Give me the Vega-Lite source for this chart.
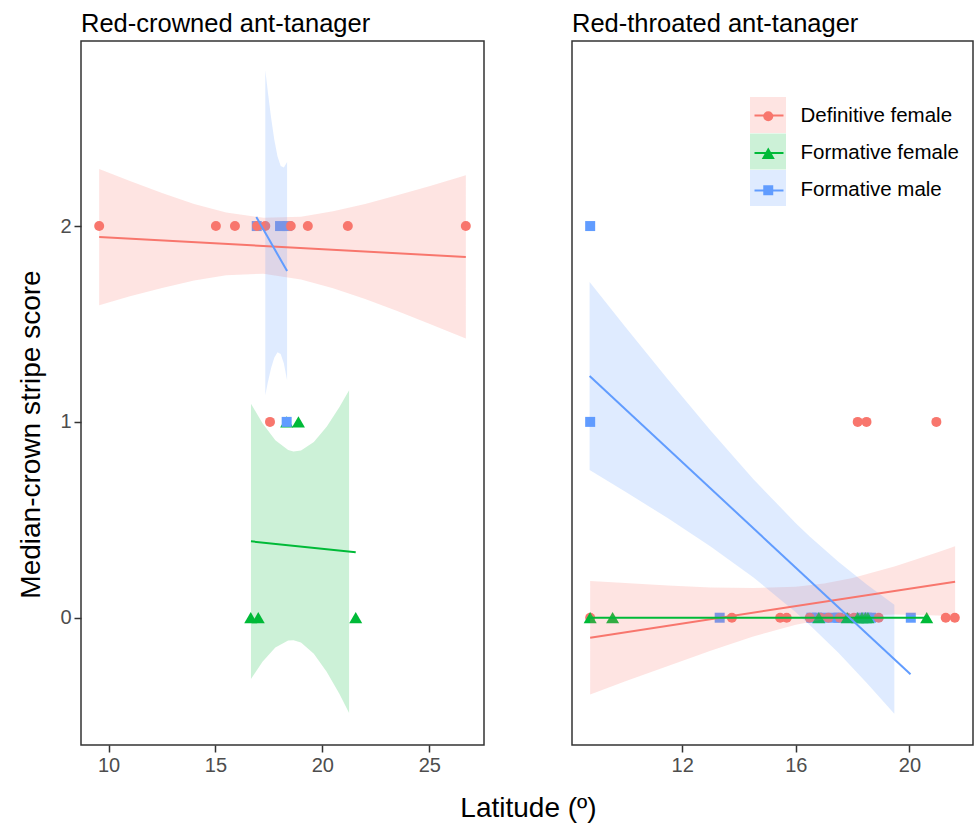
{
  "$schema": "https://vega.github.io/schema/vega-lite/v6.json",
  "padding": {"left": 16, "top": 10, "right": 4, "bottom": 4},
  "background": "white",
  "datasets": {
    "points": [
      {"panel": "L", "group": "Formative female", "lat": 16.65, "score": 0},
      {"panel": "L", "group": "Formative female", "lat": 17.0, "score": 0},
      {"panel": "L", "group": "Formative female", "lat": 21.56, "score": 0},
      {"panel": "L", "group": "Formative female", "lat": 18.33, "score": 1},
      {"panel": "L", "group": "Formative female", "lat": 18.88, "score": 1},
      {"panel": "L", "group": "Formative male", "lat": 16.93, "score": 2},
      {"panel": "L", "group": "Formative male", "lat": 18.02, "score": 2},
      {"panel": "L", "group": "Formative male", "lat": 18.36, "score": 2},
      {"panel": "L", "group": "Formative male", "lat": 18.33, "score": 1},
      {"panel": "L", "group": "Definitive female", "lat": 9.56, "score": 2},
      {"panel": "L", "group": "Definitive female", "lat": 15.02, "score": 2},
      {"panel": "L", "group": "Definitive female", "lat": 15.91, "score": 2},
      {"panel": "L", "group": "Definitive female", "lat": 16.95, "score": 2},
      {"panel": "L", "group": "Definitive female", "lat": 17.33, "score": 2},
      {"panel": "L", "group": "Definitive female", "lat": 18.52, "score": 2},
      {"panel": "L", "group": "Definitive female", "lat": 19.32, "score": 2},
      {"panel": "L", "group": "Definitive female", "lat": 21.19, "score": 2},
      {"panel": "L", "group": "Definitive female", "lat": 26.71, "score": 2},
      {"panel": "L", "group": "Definitive female", "lat": 17.55, "score": 1},
      {"panel": "R", "group": "Formative male", "lat": 8.76, "score": 2},
      {"panel": "R", "group": "Formative male", "lat": 8.76, "score": 1},
      {"panel": "R", "group": "Formative male", "lat": 13.32, "score": 0},
      {"panel": "R", "group": "Formative male", "lat": 16.55, "score": 0},
      {"panel": "R", "group": "Formative male", "lat": 16.75, "score": 0},
      {"panel": "R", "group": "Formative male", "lat": 17.0, "score": 0},
      {"panel": "R", "group": "Formative male", "lat": 17.35, "score": 0},
      {"panel": "R", "group": "Formative male", "lat": 17.5, "score": 0},
      {"panel": "R", "group": "Formative male", "lat": 18.3, "score": 0},
      {"panel": "R", "group": "Formative male", "lat": 18.5, "score": 0},
      {"panel": "R", "group": "Formative male", "lat": 18.65, "score": 0},
      {"panel": "R", "group": "Formative male", "lat": 20.05, "score": 0},
      {"panel": "R", "group": "Definitive female", "lat": 18.18, "score": 1},
      {"panel": "R", "group": "Definitive female", "lat": 18.49, "score": 1},
      {"panel": "R", "group": "Definitive female", "lat": 20.95, "score": 1},
      {"panel": "R", "group": "Definitive female", "lat": 8.76, "score": 0},
      {"panel": "R", "group": "Definitive female", "lat": 13.75, "score": 0},
      {"panel": "R", "group": "Definitive female", "lat": 15.45, "score": 0},
      {"panel": "R", "group": "Definitive female", "lat": 15.68, "score": 0},
      {"panel": "R", "group": "Definitive female", "lat": 16.49, "score": 0},
      {"panel": "R", "group": "Definitive female", "lat": 16.87, "score": 0},
      {"panel": "R", "group": "Definitive female", "lat": 17.15, "score": 0},
      {"panel": "R", "group": "Definitive female", "lat": 17.55, "score": 0},
      {"panel": "R", "group": "Definitive female", "lat": 17.81, "score": 0},
      {"panel": "R", "group": "Definitive female", "lat": 18.05, "score": 0},
      {"panel": "R", "group": "Definitive female", "lat": 18.92, "score": 0},
      {"panel": "R", "group": "Definitive female", "lat": 21.28, "score": 0},
      {"panel": "R", "group": "Definitive female", "lat": 21.6, "score": 0},
      {"panel": "R", "group": "Formative female", "lat": 8.76, "score": 0},
      {"panel": "R", "group": "Formative female", "lat": 9.55, "score": 0},
      {"panel": "R", "group": "Formative female", "lat": 16.81, "score": 0},
      {"panel": "R", "group": "Formative female", "lat": 17.81, "score": 0},
      {"panel": "R", "group": "Formative female", "lat": 18.18, "score": 0},
      {"panel": "R", "group": "Formative female", "lat": 18.33, "score": 0},
      {"panel": "R", "group": "Formative female", "lat": 18.45, "score": 0},
      {"panel": "R", "group": "Formative female", "lat": 18.54, "score": 0},
      {"panel": "R", "group": "Formative female", "lat": 20.61, "score": 0}
    ],
    "fits": [
      {"panel": "L", "fitgroup": "Definitive female", "lat": 9.56, "score": 1.944},
      {"panel": "L", "fitgroup": "Definitive female", "lat": 26.71, "score": 1.842},
      {"panel": "L", "fitgroup": "Formative female", "lat": 16.66, "score": 0.39},
      {"panel": "L", "fitgroup": "Formative female", "lat": 21.56, "score": 0.334},
      {"panel": "L", "fitgroup": "Formative male", "lat": 16.91, "score": 2.046},
      {"panel": "L", "fitgroup": "Formative male", "lat": 18.35, "score": 1.77},
      {"panel": "R", "fitgroup": "Definitive female", "lat": 8.76, "score": -0.102},
      {"panel": "R", "fitgroup": "Definitive female", "lat": 21.61, "score": 0.184},
      {"panel": "R", "fitgroup": "Formative female", "lat": 8.76, "score": 0},
      {"panel": "R", "fitgroup": "Formative female", "lat": 20.61, "score": 0},
      {"panel": "R", "fitgroup": "Formative male", "lat": 8.74, "score": 1.234},
      {"panel": "R", "fitgroup": "Formative male", "lat": 20.04, "score": -0.289}
    ],
    "bands": [
      {"panel": "L", "band": "Definitive female", "lat": 9.56, "lo": 1.596, "hi": 2.292},
      {"panel": "L", "band": "Definitive female", "lat": 11.0, "lo": 1.641, "hi": 2.23},
      {"panel": "L", "band": "Definitive female", "lat": 12.5, "lo": 1.684, "hi": 2.169},
      {"panel": "L", "band": "Definitive female", "lat": 14.0, "lo": 1.722, "hi": 2.113},
      {"panel": "L", "band": "Definitive female", "lat": 15.5, "lo": 1.749, "hi": 2.069},
      {"panel": "L", "band": "Definitive female", "lat": 17.24, "lo": 1.757, "hi": 2.043},
      {"panel": "L", "band": "Definitive female", "lat": 19.0, "lo": 1.727, "hi": 2.048},
      {"panel": "L", "band": "Definitive female", "lat": 20.5, "lo": 1.683, "hi": 2.075},
      {"panel": "L", "band": "Definitive female", "lat": 22.0, "lo": 1.627, "hi": 2.113},
      {"panel": "L", "band": "Definitive female", "lat": 23.5, "lo": 1.566, "hi": 2.157},
      {"panel": "L", "band": "Definitive female", "lat": 25.0, "lo": 1.501, "hi": 2.203},
      {"panel": "L", "band": "Definitive female", "lat": 26.71, "lo": 1.426, "hi": 2.259},
      {"panel": "L", "band": "Formative female", "lat": 16.66, "lo": -0.313, "hi": 1.093},
      {"panel": "L", "band": "Formative female", "lat": 17.2, "lo": -0.225, "hi": 0.993},
      {"panel": "L", "band": "Formative female", "lat": 17.8, "lo": -0.152, "hi": 0.906},
      {"panel": "L", "band": "Formative female", "lat": 18.4, "lo": -0.116, "hi": 0.856},
      {"panel": "L", "band": "Formative female", "lat": 18.65, "lo": -0.115, "hi": 0.849},
      {"panel": "L", "band": "Formative female", "lat": 19.0, "lo": -0.127, "hi": 0.854},
      {"panel": "L", "band": "Formative female", "lat": 19.6, "lo": -0.184, "hi": 0.897},
      {"panel": "L", "band": "Formative female", "lat": 20.2, "lo": -0.276, "hi": 0.975},
      {"panel": "L", "band": "Formative female", "lat": 20.8, "lo": -0.39, "hi": 1.076},
      {"panel": "L", "band": "Formative female", "lat": 21.25, "lo": -0.486, "hi": 1.161},
      {"panel": "L", "band": "Formative male", "lat": 17.33, "lo": 1.136, "hi": 2.796},
      {"panel": "L", "band": "Formative male", "lat": 17.45, "lo": 1.202, "hi": 2.684},
      {"panel": "L", "band": "Formative male", "lat": 17.6, "lo": 1.274, "hi": 2.554},
      {"panel": "L", "band": "Formative male", "lat": 17.75, "lo": 1.328, "hi": 2.442},
      {"panel": "L", "band": "Formative male", "lat": 17.9, "lo": 1.356, "hi": 2.357},
      {"panel": "L", "band": "Formative male", "lat": 18.05, "lo": 1.347, "hi": 2.307},
      {"panel": "L", "band": "Formative male", "lat": 18.2, "lo": 1.298, "hi": 2.299},
      {"panel": "L", "band": "Formative male", "lat": 18.35, "lo": 1.213, "hi": 2.327},
      {"panel": "R", "band": "Definitive female", "lat": 8.76, "lo": -0.392, "hi": 0.188},
      {"panel": "R", "band": "Definitive female", "lat": 10.0, "lo": -0.325, "hi": 0.177},
      {"panel": "R", "band": "Definitive female", "lat": 11.5, "lo": -0.246, "hi": 0.164},
      {"panel": "R", "band": "Definitive female", "lat": 13.0, "lo": -0.169, "hi": 0.154},
      {"panel": "R", "band": "Definitive female", "lat": 14.5, "lo": -0.096, "hi": 0.152},
      {"panel": "R", "band": "Definitive female", "lat": 16.0, "lo": -0.036, "hi": 0.158},
      {"panel": "R", "band": "Definitive female", "lat": 17.0, "lo": -0.008, "hi": 0.175},
      {"panel": "R", "band": "Definitive female", "lat": 18.0, "lo": 0.009, "hi": 0.203},
      {"panel": "R", "band": "Definitive female", "lat": 19.5, "lo": 0.016, "hi": 0.263},
      {"panel": "R", "band": "Definitive female", "lat": 21.0, "lo": 0.011, "hi": 0.334},
      {"panel": "R", "band": "Definitive female", "lat": 21.61, "lo": 0.007, "hi": 0.365},
      {"panel": "R", "band": "Formative male", "lat": 8.74, "lo": 0.754, "hi": 1.714},
      {"panel": "R", "band": "Formative male", "lat": 10.0, "lo": 0.643, "hi": 1.485},
      {"panel": "R", "band": "Formative male", "lat": 11.5, "lo": 0.508, "hi": 1.216},
      {"panel": "R", "band": "Formative male", "lat": 13.0, "lo": 0.364, "hi": 0.956},
      {"panel": "R", "band": "Formative male", "lat": 14.5, "lo": 0.207, "hi": 0.708},
      {"panel": "R", "band": "Formative male", "lat": 16.0, "lo": 0.028, "hi": 0.483},
      {"panel": "R", "band": "Formative male", "lat": 16.5, "lo": -0.038, "hi": 0.414},
      {"panel": "R", "band": "Formative male", "lat": 17.5, "lo": -0.179, "hi": 0.286},
      {"panel": "R", "band": "Formative male", "lat": 18.5, "lo": -0.333, "hi": 0.169},
      {"panel": "R", "band": "Formative male", "lat": 19.47, "lo": -0.49, "hi": 0.066}
    ]
  },
  "bounds": "flush",
  "spacing": 88,
  "hconcat": [
    {
      "width": 403,
      "height": 704,
      "title": {"text": "Red-crowned ant-tanager"},
      "encoding": {
        "x": {
          "field": "lat",
          "type": "quantitative",
          "scale": {"domain": [8.71, 27.56], "nice": false, "zero": false},
          "axis": {
            "values": [10, 15, 20, 25],
            "title": "Latitude (º)",
            "titleX": 447,
            "titleY": 71,
            "titleBaseline": "alphabetic"
          }
        }
      },
      "layer": [
        {
          "data": {"name": "points"},
          "transform": [{"filter": "datum.panel === 'L'"}],
          "mark": {"type": "point", "filled": true, "opacity": 1},
          "encoding": {
            "y": {
              "field": "score",
              "type": "quantitative",
              "scale": {"domain": [-0.65, 2.945], "nice": false, "zero": false},
              "axis": {
                "values": [0, 1, 2],
                "format": "d",
                "title": "Median-crown stripe score",
                "titleX": -42,
                "titleY": 393,
                "titleBaseline": "alphabetic"
              }
            },
            "color": {
              "field": "group",
              "type": "nominal",
              "scale": {"range": ["#F8766D", "#00BA38", "#619CFF"]},
              "legend": null
            },
            "shape": {
              "field": "group",
              "type": "nominal",
              "scale": {"range": ["circle", "triangle-up", "square"]},
              "legend": null
            },
            "size": {
              "field": "group",
              "type": "nominal",
              "scale": {"type": "ordinal", "range": [100, 170, 100]},
              "legend": null
            }
          }
        },
        {
          "data": {"name": "bands"},
          "transform": [{"filter": "datum.panel === 'L'"}],
          "mark": {"type": "area", "opacity": 0.2},
          "encoding": {
            "y": {"field": "lo", "type": "quantitative"},
            "y2": {"field": "hi"},
            "fill": {
              "field": "band",
              "type": "nominal",
              "scale": {"range": ["#F8766D", "#00BA38", "#619CFF"]},
              "legend": null
            }
          }
        },
        {
          "data": {"name": "fits"},
          "transform": [{"filter": "datum.panel === 'L'"}],
          "mark": {"type": "line", "strokeWidth": 2},
          "encoding": {
            "y": {"field": "score", "type": "quantitative"},
            "stroke": {
              "field": "fitgroup",
              "type": "nominal",
              "scale": {"range": ["#F8766D", "#00BA38", "#619CFF"]},
              "legend": null
            }
          }
        }
      ]
    },
    {
      "width": 401,
      "height": 704,
      "title": {"text": "Red-throated ant-tanager"},
      "encoding": {
        "x": {
          "field": "lat",
          "type": "quantitative",
          "scale": {"domain": [8.12, 22.24], "nice": false, "zero": false},
          "axis": {"values": [12, 16, 20], "title": null}
        }
      },
      "layer": [
        {
          "data": {"name": "points"},
          "transform": [{"filter": "datum.panel === 'R'"}],
          "mark": {"type": "point", "filled": true, "opacity": 1},
          "encoding": {
            "y": {
              "field": "score",
              "type": "quantitative",
              "scale": {"domain": [-0.65, 2.945], "nice": false, "zero": false},
              "axis": null
            },
            "color": {
              "field": "group",
              "type": "nominal",
              "scale": {"range": ["#F8766D", "#00BA38", "#619CFF"]},
              "legend": {
                "orient": "none", "legendX": 186, "legendY": 65, "title": null,
                "padding": 0, "symbolStrokeWidth": 0,
                "labelFontSize": 20.5, "labelColor": "black", "labelOffset": 22,
                "rowPadding": 16, "zindex": 3
              }
            },
            "shape": {
              "field": "group",
              "type": "nominal",
              "scale": {"range": ["circle", "triangle-up", "square"]},
              "legend": {
                "orient": "none", "legendX": 186, "legendY": 65, "title": null,
                "padding": 0, "symbolStrokeWidth": 0,
                "labelFontSize": 20.5, "labelColor": "black", "labelOffset": 22,
                "rowPadding": 16, "zindex": 3
              }
            },
            "size": {
              "field": "group",
              "type": "nominal",
              "scale": {"type": "ordinal", "range": [100, 170, 100]},
              "legend": {
                "orient": "none", "legendX": 186, "legendY": 65, "title": null,
                "padding": 0, "symbolStrokeWidth": 0,
                "labelFontSize": 20.5, "labelColor": "black", "labelOffset": 22,
                "rowPadding": 16, "zindex": 3
              }
            }
          }
        },
        {
          "data": {"name": "bands"},
          "transform": [{"filter": "datum.panel === 'R'"}],
          "mark": {"type": "area", "opacity": 0.2},
          "encoding": {
            "y": {"field": "lo", "type": "quantitative"},
            "y2": {"field": "hi"},
            "fill": {
              "field": "band",
              "type": "nominal",
              "scale": {"range": ["#F8766D", "#00BA38", "#619CFF"]},
              "legend": {
                "orient": "none", "legendX": 178, "legendY": 56, "title": null,
                "padding": 0, "symbolType": "square", "symbolSize": 1296,
                "symbolOpacity": 0.2, "symbolStrokeWidth": 0,
                "labelFontSize": 10, "labelOpacity": 0, "rowPadding": 0.5, "zindex": 1
              }
            }
          }
        },
        {
          "data": {"name": "fits"},
          "transform": [{"filter": "datum.panel === 'R'"}],
          "mark": {"type": "line", "strokeWidth": 2},
          "encoding": {
            "y": {"field": "score", "type": "quantitative"},
            "stroke": {
              "field": "fitgroup",
              "type": "nominal",
              "scale": {"range": ["#F8766D", "#00BA38", "#619CFF"]},
              "legend": {
                "orient": "none", "legendX": 181.5, "legendY": 59, "title": null,
                "padding": 0, "symbolType": "stroke", "symbolSize": 841,
                "symbolStrokeWidth": 2, "labelFontSize": 20.5, "labelOpacity": 0,
                "rowPadding": 11.5, "zindex": 2
              }
            }
          }
        }
      ]
    }
  ],
  "resolve": {
    "legend": {"color": "independent", "shape": "independent", "fill": "independent", "stroke": "independent", "size": "independent"}
  },
  "config": {
    "font": "Liberation Sans",
    "view": {"stroke": "#333333", "strokeWidth": 1.5},
    "axis": {
      "grid": false,
      "domain": false,
      "labelFont": "Liberation Sans",
      "labelFontSize": 20,
      "labelColor": "#4D4D4D",
      "labelPadding": 3,
      "tickColor": "#333333",
      "tickSize": 7,
      "tickWidth": 1.5,
      "titleFont": "Liberation Sans",
      "titleFontSize": 28,
      "titleFontWeight": "normal",
      "titleColor": "black"
    },
    "legend": {"labelFont": "Liberation Sans"},
    "title": {
      "font": "Liberation Sans",
      "fontSize": 25.5,
      "fontWeight": "normal",
      "color": "black",
      "anchor": "start",
      "frame": "group",
      "offset": 4
    }
  }
}
